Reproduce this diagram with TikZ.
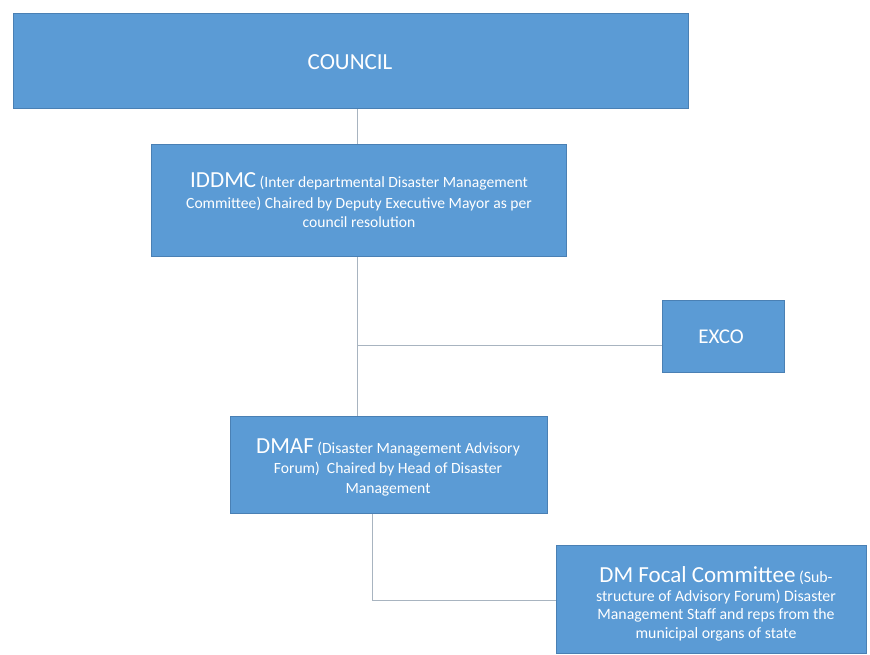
\documentclass[tikz,border=0pt]{standalone}
\usepackage{fontspec}
\setmainfont{Carlito}
\begin{document}
\begin{tikzpicture}[x=1pt,y=-1pt,
  box/.style={draw=boxedge,line width=0.8pt,fill=boxfill,inner sep=0pt},
  label/.style={text=white,align=center,inner sep=0pt},
  link/.style={draw=linkgray,line width=0.7pt}]
\definecolor{boxfill}{HTML}{5B9BD5}
\definecolor{boxedge}{HTML}{4A80B4}
\definecolor{linkgray}{HTML}{A8B4C0}
\newcommand{\bigpart}[1]{{\fontsize{23}{20}\selectfont #1}}
\useasboundingbox (0,0) rectangle (870,655);

% boxes (text nodes are placed by the baseline of their last line)
\node[box,minimum width=675,minimum height=95,anchor=north west] (council) at (13,13) {};
\node[label,font=\fontsize{23}{26}\selectfont] (councilt) at (350,62) {COUNCIL};

\node[box,minimum width=415,minimum height=112,anchor=north west] (iddmc) at (151,144) {};
\node[label,font=\fontsize{15.6}{20}\selectfont,anchor=base] (iddmct) at (359,228)
  {\bigpart{IDDMC} (Inter departmental Disaster Management\\
   Committee) Chaired by Deputy Executive Mayor as per\\
   council resolution};

\node[box,minimum width=122,minimum height=72,anchor=north west] (exco) at (662,300) {};
\node[label,font=\fontsize{21}{24}\selectfont] (excot) at (721,337) {EXCO};

\node[box,minimum width=317,minimum height=97,anchor=north west] (dmaf) at (230,416) {};
\node[label,font=\fontsize{15.6}{20}\selectfont,anchor=base] (dmaft) at (388,493)
  {\bigpart{DMAF} (Disaster Management Advisory\\
   Forum)\ \ Chaired by Head of Disaster\\
   Management};

\node[box,minimum width=310,minimum height=108,anchor=north west] (focal) at (556,545) {};
\node[label,font=\fontsize{15.8}{18.5}\selectfont,anchor=base] (focalt) at (716,638)
  {\bigpart{DM Focal Committee} (Sub-\\
   structure of Advisory Forum) Disaster\\
   Management Staff and reps from\ the\\
   municipal organs of state};

% connectors
\coordinate (j1) at (357,345);
\coordinate (j2) at (372,600);
\draw[link] (council.south -| j1) -- (iddmc.north -| j1);
\draw[link] (iddmc.south -| j1) -- (dmaf.north -| j1);
\draw[link] (j1) -- (exco.west |- j1);
\draw[link] (dmaf.south -| j2) -- (j2) -- (focal.west |- j2);
\end{tikzpicture}
\end{document}
